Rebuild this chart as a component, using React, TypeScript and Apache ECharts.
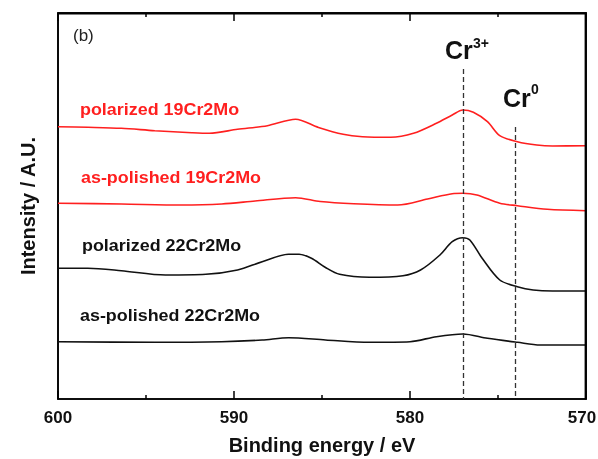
import { useEffect, useRef } from "react";
import * as echarts from "echarts";

// Binding energy (eV) and intensity (arbitrary units, stacked offsets as plotted)
const pol19Energy = [600.0, 598.3, 596.4, 594.5, 592.4, 591.4, 589.8, 588.1, 586.5, 585.2, 583.8, 582.7, 581.1, 579.8, 578.5, 577.6, 577.0, 576.4, 575.6, 574.9, 573.9, 572.8, 571.9, 570.0];
const pol19Intensity = [272.3, 271.7, 270.7, 268.3, 266.3, 265.7, 269.7, 273.3, 279.7, 271.5, 264.7, 262.3, 261.7, 265.7, 275.7, 284.0, 289.0, 286.7, 277.3, 263.3, 257.3, 254.0, 253.0, 253.3];

const asp19Energy = [600.0, 596.4, 593.0, 590.7, 588.8, 586.5, 585.1, 583.2, 580.7, 579.0, 577.6, 577.0, 576.2, 574.9, 573.9, 572.2, 570.0];
const asp19Intensity = [195.7, 195.0, 194.0, 195.0, 198.0, 201.3, 197.5, 195.3, 194.0, 200.0, 205.3, 205.7, 204.0, 195.7, 193.3, 189.7, 188.3];

const pol22Energy = [600.0, 598.3, 596.4, 593.9, 591.6, 589.8, 588.4, 586.9, 586.3, 585.6, 584.8, 584.0, 582.3, 580.4, 579.4, 578.3, 577.6, 577.0, 576.6, 575.9, 574.9, 573.9, 573.0, 571.9, 570.0];
const pol22Intensity = [130.7, 130.7, 128.3, 124.0, 124.7, 129.0, 137.3, 144.7, 144.7, 140.7, 131.5, 124.7, 121.7, 123.3, 129.0, 144.0, 157.3, 161.3, 159.0, 140.7, 119.0, 112.3, 109.0, 108.0, 108.0];

const asp22Energy = [600.0, 594.5, 590.7, 588.4, 586.9, 584.8, 582.3, 580.0, 578.5, 577.0, 575.6, 573.9, 572.6, 570.0];
const asp22Intensity = [57.3, 56.7, 57.3, 59.0, 61.3, 59.0, 56.7, 57.3, 62.3, 65.0, 60.7, 56.7, 54.0, 54.0];

const seriesNames = ["polarized 19Cr2Mo", "as-polished 19Cr2Mo", "polarized 22Cr2Mo", "as-polished 22Cr2Mo"];
const seriesColors = ["#ff1f1f", "#ff1f1f", "#111111", "#111111"];

const peakEnergies = [577.0, 574.0];
const peakLineTops = [330, 272];

const xMin = 570;
const xMax = 600;
const yMin = 0;
const yMax = 386;

const CHART_W = 598;
const CHART_H = 459;
const GRID = { left: 58, right: 12, top: 13, bottom: 60 };

const FONT = "'Liberation Sans', Arial, Helvetica, sans-serif";

function zip(xs: number[], ys: number[]) {
  return xs.map((x, i) => [x, ys[i]]);
}

function axisLine() {
  return { show: true, onZero: false, lineStyle: { color: "#000", width: 1.6 } };
}

export default function App() {
  const ref = useRef<HTMLDivElement>(null);

  useEffect(() => {
    if (!ref.current) return;
    const chart = echarts.init(ref.current, undefined, { renderer: "svg" });
    const allData = [
      zip(pol19Energy, pol19Intensity),
      zip(asp19Energy, asp19Intensity),
      zip(pol22Energy, pol22Intensity),
      zip(asp22Energy, asp22Intensity),
    ];

    const series: any[] = allData.map((d, i) => ({
      name: seriesNames[i],
      type: "line",
      data: d,
      showSymbol: false,
      smooth: 0.3,
      lineStyle: { color: seriesColors[i], width: 1.6 },
      itemStyle: { color: seriesColors[i] },
    }));

    series.push({
      name: "peak positions",
      type: "line",
      data: [],
      markLine: {
        silent: true,
        symbol: ["none", "none"],
        label: { show: false },
        lineStyle: { color: "#333", type: [5, 3], width: 1.3 },
        data: peakEnergies.map((e, i) => [
          { coord: [e, peakLineTops[i]] },
          { coord: [e, yMin] },
        ]),
      },
    });

    const textLabels = [
      { text: seriesNames[0], x: 80, y: 110, color: seriesColors[0] },
      { text: seriesNames[1], x: 81, y: 178, color: seriesColors[1] },
      { text: seriesNames[2], x: 82, y: 246, color: seriesColors[2] },
      { text: seriesNames[3], x: 80, y: 316, color: seriesColors[3] },
    ];

    const plotRight = CHART_W - GRID.right;
    const plotBottom = CHART_H - GRID.bottom;

    const graphic: any[] = [
      {
        type: "polyline",
        z: 60,
        silent: true,
        shape: {
          points: [
            [GRID.left, GRID.top + 0.5],
            [plotRight - 0.5, GRID.top + 0.5],
            [plotRight - 0.5, plotBottom],
          ],
        },
        style: { fill: "none", stroke: "#000", lineWidth: 1.8 },
      },
      ...textLabels.map((t) => ({
        type: "text",
        x: t.x,
        y: t.y,
        scaleX: 1.12,
        style: {
          text: t.text,
          fill: t.color,
          font: `bold 16px ${FONT}`,
          textAlign: "left",
          textVerticalAlign: "middle",
        },
      })),
      {
        type: "text",
        x: 73,
        y: 35,
        style: { text: "(b)", fill: "#222", font: `17px ${FONT}`, textAlign: "left", textVerticalAlign: "middle" },
      },
      {
        type: "text",
        x: 445,
        y: 50,
        style: { text: "Cr", fill: "#111", font: `bold 25px ${FONT}`, textAlign: "left", textVerticalAlign: "middle" },
      },
      {
        type: "text",
        x: 473,
        y: 43,
        style: { text: "3+", fill: "#111", font: `bold 14px ${FONT}`, textAlign: "left", textVerticalAlign: "middle" },
      },
      {
        type: "text",
        x: 503,
        y: 98,
        style: { text: "Cr", fill: "#111", font: `bold 25px ${FONT}`, textAlign: "left", textVerticalAlign: "middle" },
      },
      {
        type: "text",
        x: 531,
        y: 89,
        style: { text: "0", fill: "#111", font: `bold 14px ${FONT}`, textAlign: "left", textVerticalAlign: "middle" },
      },
    ];

    const labelFont = { fontFamily: FONT, fontWeight: "bold", fontSize: 17, color: "#111" };

    chart.setOption({
      animation: false,
      grid: { ...GRID, outerBoundsMode: "none", show: true, borderColor: "#000", borderWidth: 1.6 },
      xAxis: [
        {
          type: "value",
          inverse: true,
          min: xMin,
          max: xMax,
          interval: 10,
          name: "Binding energy / eV",
          nameLocation: "middle",
          nameGap: 36,
          nameTextStyle: { fontFamily: FONT, fontWeight: "bold", fontSize: 20, color: "#111" },
          axisLine: axisLine(),
          axisTick: { show: true, inside: true, length: 8, lineStyle: { color: "#000", width: 1.5 } },
          minorTick: { show: true, splitNumber: 2, length: 4, lineStyle: { color: "#000", width: 1.5 } },
          axisLabel: {
            show: true,
            margin: 10,
            ...labelFont,
            formatter: (v: number) => (v === xMin ? `{r|${v}}` : `{n|${v}}`),
            rich: {
              n: { ...labelFont },
              r: { ...labelFont, padding: [0, 8, 0, 0] },
            },
          },
          splitLine: { show: false },
        },
        {
          type: "value",
          inverse: true,
          position: "top",
          min: xMin,
          max: xMax,
          interval: 10,
          axisLine: axisLine(),
          axisTick: { show: true, inside: true, length: 8, lineStyle: { color: "#000", width: 1.5 } },
          minorTick: { show: true, splitNumber: 2, length: 4, lineStyle: { color: "#000", width: 1.5 } },
          axisLabel: { show: false },
          splitLine: { show: false },
        },
      ],
      yAxis: [
        {
          type: "value",
          min: yMin,
          max: yMax,
          name: "Intensity / A.U.",
          nameLocation: "middle",
          nameGap: 20,
          nameTextStyle: { fontFamily: FONT, fontWeight: "bold", fontSize: 20, color: "#111" },
          axisLine: axisLine(),
          axisTick: { show: false },
          axisLabel: { show: false },
          splitLine: { show: false },
        },
        {
          type: "value",
          position: "right",
          min: yMin,
          max: yMax,
          axisLine: axisLine(),
          axisTick: { show: false },
          axisLabel: { show: false },
          splitLine: { show: false },
        },
      ],
      series,
      graphic,
    });

    return () => chart.dispose();
  }, []);

  return <div ref={ref} style={{ position: "fixed", left: 0, top: 0, width: CHART_W, height: CHART_H }} />;
}
